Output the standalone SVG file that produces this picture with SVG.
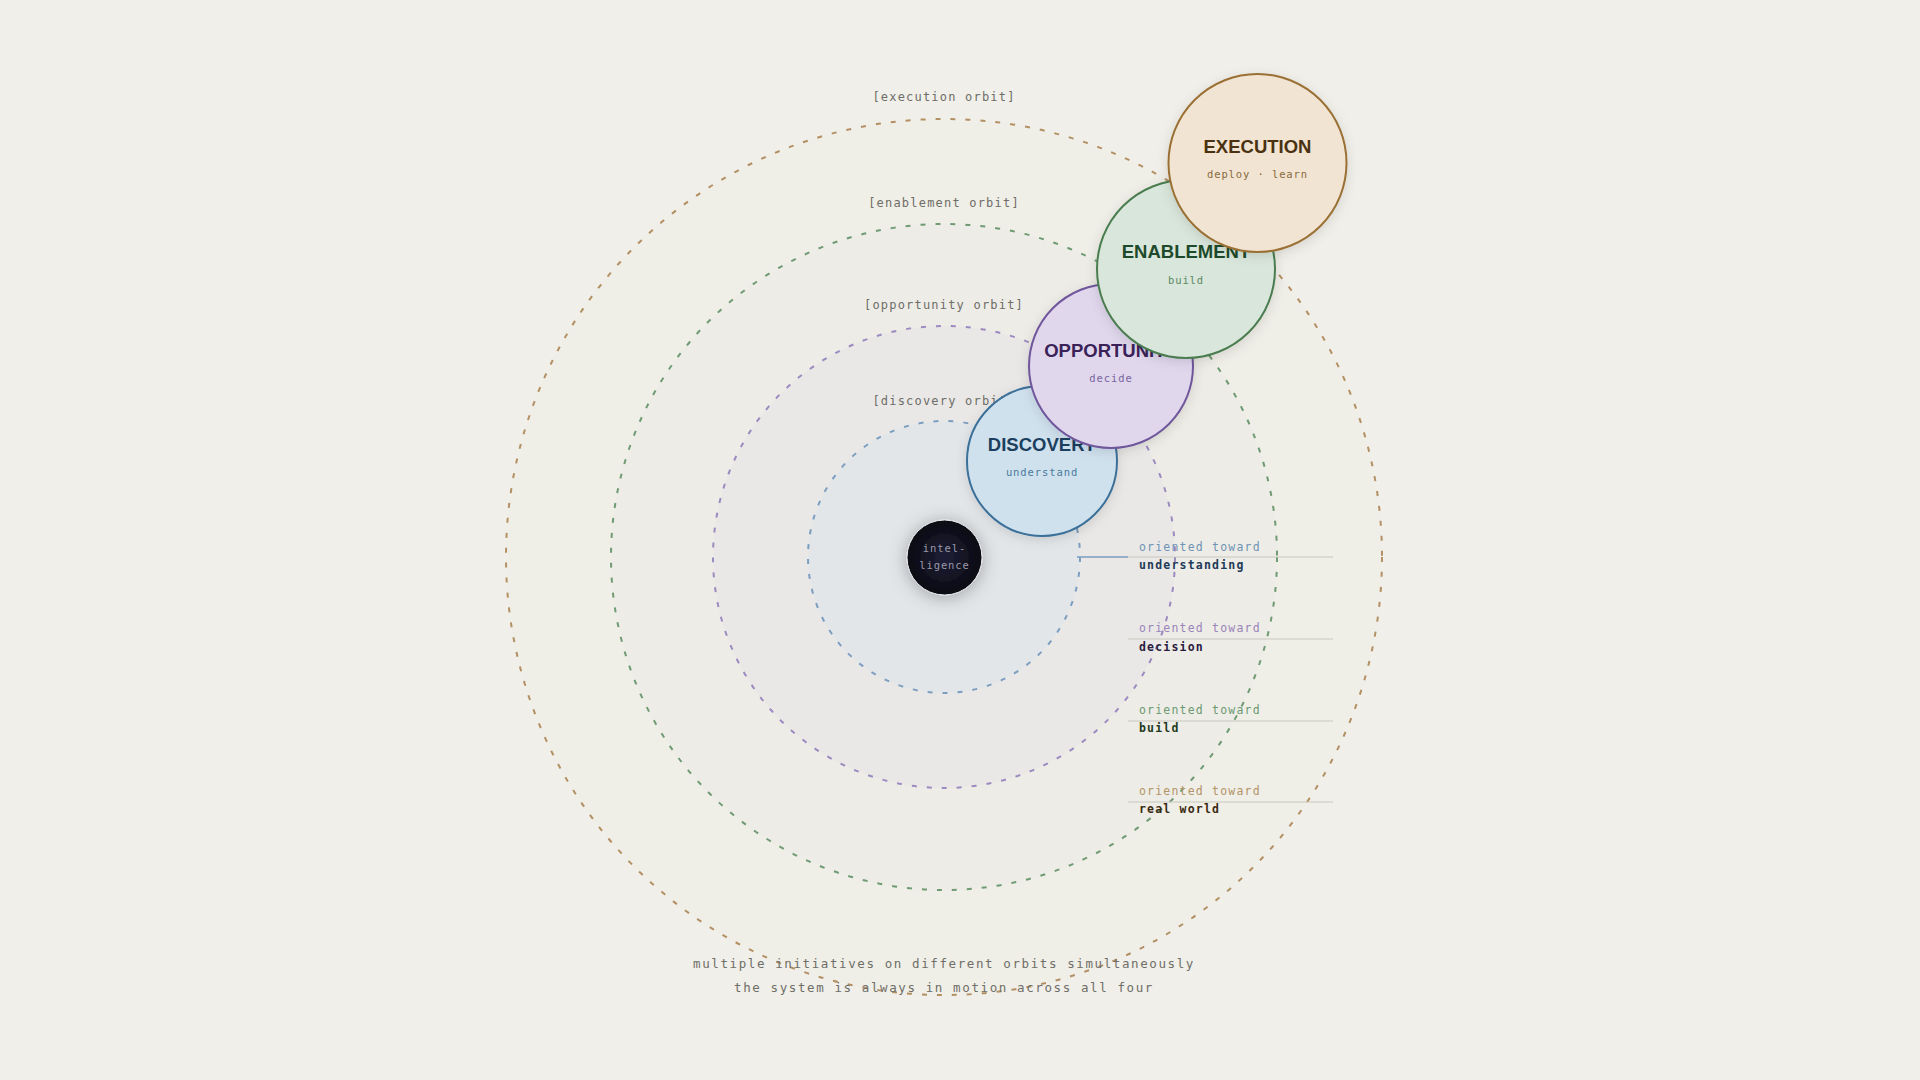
<svg xmlns="http://www.w3.org/2000/svg" width="1920" height="1080" viewBox="0 0 1920 1080">
<defs>
<style>
.orbit{stroke-width:2;stroke-dasharray:5 10}
.olabel{font-family:"DejaVu Sans Mono","Liberation Mono",monospace;font-size:12px;letter-spacing:1.2px;fill:#6e6d68;text-anchor:middle}
.title{font-family:"Liberation Sans",Arial,sans-serif;font-weight:700;font-size:18.5px;text-anchor:middle}
.sub{font-family:"DejaVu Sans Mono","Liberation Mono",monospace;font-size:10.5px;letter-spacing:0.9px;text-anchor:middle}
.or1{font-family:"DejaVu Sans Mono","Liberation Mono",monospace;font-size:11.5px;letter-spacing:1.2px}
.or2{font-family:"DejaVu Sans Mono","Liberation Mono",monospace;font-size:11.5px;font-weight:700;letter-spacing:1.2px}
.rule{stroke:#c9c7be;stroke-width:1.2}
.foot{font-family:"DejaVu Sans Mono","Liberation Mono",monospace;font-size:12.5px;letter-spacing:1.6px;fill:#6f6e68;text-anchor:middle}
.node{stroke-width:2;filter:url(#sh)}
</style>
<filter id="sh" x="-30%" y="-30%" width="160%" height="160%">
<feDropShadow dx="0" dy="3" stdDeviation="6" flood-color="#000" flood-opacity="0.12"/>
</filter>
<filter id="glow" x="-100%" y="-100%" width="300%" height="300%">
<feDropShadow dx="0" dy="2" stdDeviation="9" flood-color="#000" flood-opacity="0.3"/>
</filter>
<radialGradient id="core" cx="50%" cy="50%" r="50%">
<stop offset="0" stop-color="#1f1f38"/>
<stop offset="1" stop-color="#0a0a12"/>
</radialGradient>
</defs>
<rect width="1920" height="1080" fill="#f0efe9"/>

<g id="orbits">
<circle class="orbit" cx="944" cy="557" r="438" fill="#efeee7" stroke="#b39063"/>
<circle class="orbit" cx="944" cy="557" r="333" fill="#edece6" stroke="#6f9b74"/>
<circle class="orbit" cx="944" cy="557" r="231" fill="#e9e8e6" stroke="#9c8ac0"/>
<circle class="orbit" cx="944" cy="557" r="136" fill="#e3e6e9" stroke="#7c9ec0"/>
</g>

<g id="orbit-labels">
<text class="olabel" x="944" y="101">[execution orbit]</text>
<text class="olabel" x="944" y="207">[enablement orbit]</text>
<text class="olabel" x="944" y="309">[opportunity orbit]</text>
<text class="olabel" x="944" y="405">[discovery orbit]</text>
</g>

<g id="connectors">
<line x1="1077" y1="557" x2="1128" y2="557" stroke="#7a9cc0" stroke-width="1.5"/>
<line class="rule" x1="1128" y1="557" x2="1333" y2="557"/>
<line class="rule" x1="1128" y1="639" x2="1333" y2="639"/>
<line class="rule" x1="1128" y1="721" x2="1333" y2="721"/>
<line class="rule" x1="1128" y1="802" x2="1333" y2="802"/>
</g>

<g id="orientation-labels">
<text class="or1" x="1139" y="551" fill="#6f93b5">oriented toward</text>
<text class="or2" x="1139" y="569" fill="#1e3a58">understanding</text>
<text class="or1" x="1139" y="632" fill="#9a84bc">oriented toward</text>
<text class="or2" x="1139" y="651" fill="#2a1c40">decision</text>
<text class="or1" x="1139" y="714" fill="#6c9a72">oriented toward</text>
<text class="or2" x="1139" y="732" fill="#1f3a22">build</text>
<text class="or1" x="1139" y="795" fill="#b39468">oriented toward</text>
<text class="or2" x="1139" y="813" fill="#3a2a10">real world</text>
</g>

<g id="node-intelligence">
<circle cx="944.5" cy="557.5" r="37.5" fill="url(#core)" stroke="#e9e9ee" stroke-width="1" filter="url(#glow)"/>
<text class="sub" x="944.5" y="552" fill="#9a98a8" font-size="10" letter-spacing="0.7">intel-</text>
<text class="sub" x="944.5" y="569" fill="#9a98a8" font-size="10" letter-spacing="0.7">ligence</text>
</g>

<g id="node-discovery">
<circle class="node" cx="1042" cy="461" r="75" fill="#d0e1ee" stroke="#3b6f99"/>
<text class="title" x="1042" y="451" fill="#1b3f5e">DISCOVERY</text>
<text class="sub" x="1042" y="476" fill="#4a7a9c">understand</text>
</g>

<g id="node-opportunity">
<circle class="node" cx="1111" cy="366" r="82" fill="#e0d7ed" stroke="#6f569b"/>
<text class="title" x="1111" y="357" fill="#3a2258">OPPORTUNITY</text>
<text class="sub" x="1111" y="382" fill="#7a659c">decide</text>
</g>

<g id="node-enablement">
<circle class="node" cx="1186" cy="269" r="89" fill="#d9e6db" stroke="#4a7d4f"/>
<text class="title" x="1186" y="258" fill="#1d4a2a">ENABLEMENT</text>
<text class="sub" x="1186" y="284" fill="#5a8a63">build</text>
</g>

<g id="node-execution">
<circle class="node" cx="1257.5" cy="163" r="89" fill="#f1e4d2" stroke="#9a7035"/>
<text class="title" x="1257.5" y="153" fill="#4a3210">EXECUTION</text>
<text class="sub" x="1257.5" y="178" fill="#8a6a40">deploy · learn</text>
</g>

<g id="footer">
<text class="foot" x="944" y="968">multiple initiatives on different orbits simultaneously</text>
<text class="foot" x="944" y="992">the system is always in motion across all four</text>
</g>
</svg>
